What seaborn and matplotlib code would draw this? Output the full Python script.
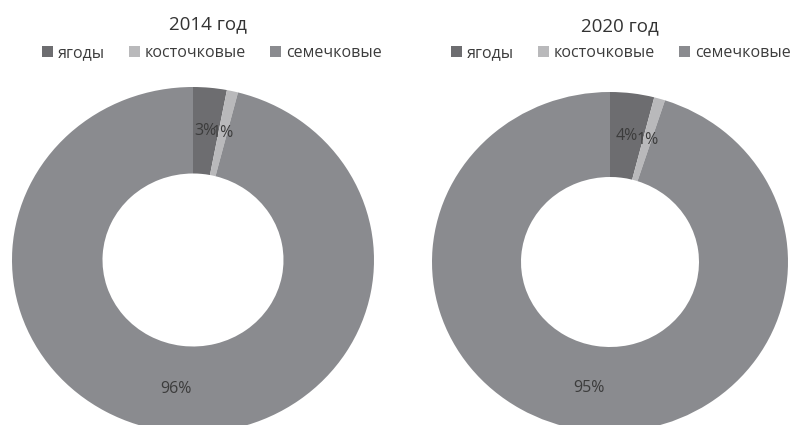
import numpy as np
import pandas as pd
import matplotlib
matplotlib.use('Agg')
import matplotlib.pyplot as plt
import seaborn as sns

# данные
categories = ['ягоды', 'косточковые', 'семечковые']
share_2014 = [3, 1, 96]
share_2020 = [4, 1, 95]
years = ['2014 год', '2020 год']

colors = ['#6d6d70', '#b9b9bb', '#8a8b8f']

sns.set_theme(style='white')
plt.rcParams['font.family'] = ['Open Sans', 'DejaVu Sans']

W, H = 796, 425
fig = plt.figure(figsize=(W / 100, H / 100), dpi=100)
fig.patch.set_facecolor('white')

# pixel boxes of the two (slightly squashed) donuts: x0, y_top, width, height
boxes = [(12, 87, 362, 346), (432, 92, 356, 340)]
title_pos = [(208, 24), (620, 26)]
legend_pos = [(212, 53), (621, 53)]

df = pd.DataFrame({'cat': categories, years[0]: share_2014, years[1]: share_2020})

for i, yr in enumerate(years):
    x0, yt, w, h = boxes[i]
    ax = fig.add_axes([x0 / W, 1 - (yt + h) / H, w / W, h / H])
    wedges, texts, autotexts = ax.pie(
        df[yr], colors=colors, startangle=90, counterclock=False,
        radius=1, wedgeprops=dict(width=0.5, edgecolor='none'),
        autopct='%.0f%%', pctdistance=0.75,
        textprops=dict(fontsize=11.5, color='#3c3c3c'))
    ax.set_aspect('auto')
    ax.set_xlim(-1, 1)
    ax.set_ylim(-1, 1)
    ax.axis('off')

    fig.text(title_pos[i][0] / W, 1 - title_pos[i][1] / H, yr,
             ha='center', va='center', fontsize=13.5, color='#333333')
    fig.legend(wedges, categories, loc='center',
               bbox_to_anchor=(legend_pos[i][0] / W, 1 - legend_pos[i][1] / H),
               ncol=3, frameon=False, fontsize=11.5,
               handlelength=0.7, handleheight=0.7, handletextpad=0.3,
               columnspacing=1.5, labelcolor='#3c3c3c')

fig.savefig('out.png', dpi=100, facecolor='white')
